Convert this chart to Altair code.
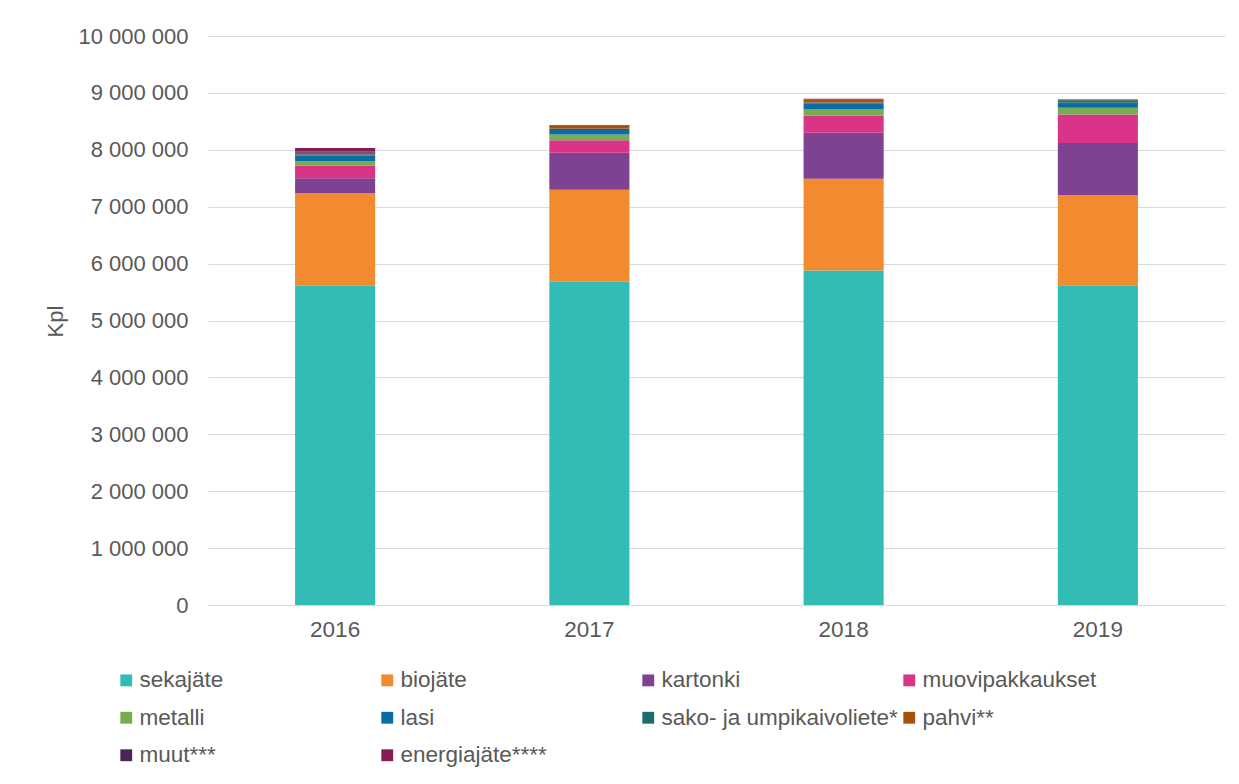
import altair as alt
import pandas as pd

years = ["2016", "2017", "2018", "2019"]
categories = ["sekajäte", "biojäte", "kartonki", "muovipakkaukset", "metalli", "lasi",
              "sako- ja umpikaivoliete*", "pahvi**", "muut***", "energiajäte****"]
colors = ["#33BBB5", "#F28A30", "#7F4293", "#DA3489", "#77AC4F", "#0A6BA8",
          "#1C6E6A", "#A5520F", "#4A2558", "#8A1A55"]

sekajate = [5620000, 5680000, 5880000, 5620000]
biojate = [1620000, 1620000, 1610000, 1580000]
kartonki = [260000, 650000, 810000, 920000]
muovi = [220000, 220000, 300000, 500000]
metalli = [80000, 100000, 110000, 120000]
lasi = [100000, 80000, 100000, 90000]
sako = [20000, 20000, 20000, 40000]
pahvi = [30000, 50000, 60000, 10000]
muut = [20000, 5000, 3000, 5000]
energia = [60000, 10000, 5000, 5000]

series = [sekajate, biojate, kartonki, muovi, metalli, lasi, sako, pahvi, muut, energia]

rows = []
for ci, (cat, vals) in enumerate(zip(categories, series)):
    for y, v in zip(years, vals):
        rows.append({"vuosi": y, "jae": cat, "kpl": v, "ord": ci})
df = pd.DataFrame(rows)

W, H = 1017, 569
FONT = "Liberation Sans"
GREY = "#595959"

chart = alt.Chart(df).mark_bar().encode(
    x=alt.X("vuosi:N", sort=years,
            scale=alt.Scale(paddingInner=0.685, paddingOuter=0.3425),
            axis=alt.Axis(title=None, labelAngle=0, labelFontSize=22.5, labelColor=GREY,
                          labelPadding=13, ticks=False, domainColor="#D9D9D9", labelFont=FONT)),
    y=alt.Y("sum(kpl):Q", stack="zero",
            scale=alt.Scale(domain=[0, 10000000], nice=False),
            axis=alt.Axis(title="Kpl", values=list(range(0, 10000001, 1000000)),
                          labelExpr="replace(replace(format(datum.value, ','), ',', ' '), ',', ' ')",
                          labelFontSize=22, labelColor=GREY, labelPadding=20, ticks=False,
                          domain=False, gridColor="#D9D9D9", labelFont=FONT,
                          titleFont=FONT, titleFontSize=22, titleFontWeight="normal",
                          titleColor=GREY, titleX=-153, titleY=285, titleAngle=270,
                          titleAlign="center", titleBaseline="middle")),
    color=alt.Color("jae:N", sort=categories, scale=alt.Scale(domain=categories, range=colors),
                    legend=alt.Legend(title=None, orient="none", legendX=-93, legendY=633,
                                      direction="horizontal", columns=4, gridAlign="all",
                                      columnPadding=-1.5,
                                      symbolType="square", symbolSize=140, symbolStrokeWidth=0,
                                      labelFontSize=22.5, labelColor=GREY, labelFont=FONT,
                                      rowPadding=14.5, labelLimit=400, labelOffset=2)),
    order=alt.Order("ord:Q", sort="ascending"),
).properties(
    width=W, height=H,
    autosize=alt.AutoSizeParams(type="none"),
    padding={"left": 200, "top": 28, "right": 6, "bottom": 170},
).configure_view(stroke=None)

chart.save("out.html", embed_options={"renderer": "svg", "actions": False})
